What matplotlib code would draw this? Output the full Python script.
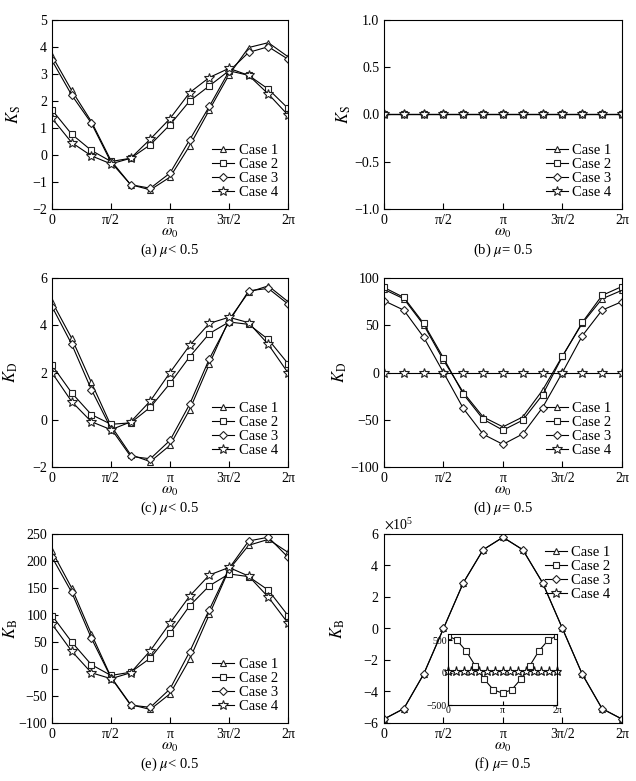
import numpy as np
import matplotlib
matplotlib.use('Agg')
import matplotlib.pyplot as plt

plt.rcParams['font.family'] = ['Liberation Serif', 'DejaVu Serif']
plt.rcParams['mathtext.fontset'] = 'stix'
plt.rcParams['font.size'] = 10

# omega_0 grid, 13 points from 0 to 2pi
w0 = np.linspace(0, 2 * np.pi, 13)
tick_pos = [0, np.pi / 2, np.pi, 3 * np.pi / 2, 2 * np.pi]
tick_lbl = ['0', 'π/2', 'π', '3π/2', '2π']
cases = ['Case 1', 'Case 2', 'Case 3', 'Case 4']

# (a) K_S, mu < 0.5
ks_a1 = [3.67, 2.39, 1.24, -0.21, -1.10, -1.29, -0.82, 0.34, 1.67, 2.97, 3.98, 4.16, 3.64]
ks_a2 = [1.67, 0.77, 0.17, -0.24, -0.12, 0.38, 1.12, 2.00, 2.56, 3.12, 2.95, 2.44, 1.73]
ks_a3 = [3.50, 2.22, 1.18, -0.27, -1.10, -1.23, -0.67, 0.56, 1.80, 3.10, 3.80, 4.01, 3.55]
ks_a4 = [1.36, 0.46, -0.03, -0.33, -0.12, 0.59, 1.35, 2.31, 2.87, 3.21, 2.95, 2.26, 1.48]

# (b) K_S, mu = 0.5
ks_b = [0.0] * 13

# (c) K_D, mu < 0.5
kd_c1 = [5.00, 3.45, 1.58, -0.25, -1.48, -1.77, -1.08, 0.43, 2.36, 4.23, 5.40, 5.67, 5.00]
kd_c2 = [2.31, 1.14, 0.22, -0.19, -0.13, 0.53, 1.54, 2.67, 3.65, 4.14, 4.04, 3.40, 2.38]
kd_c3 = [4.79, 3.20, 1.28, -0.37, -1.55, -1.65, -0.87, 0.66, 2.58, 4.16, 5.46, 5.56, 4.90]
kd_c4 = [1.99, 0.77, -0.08, -0.42, -0.09, 0.80, 2.00, 3.15, 4.08, 4.34, 4.11, 3.19, 1.99]

# (d) K_D, mu = 0.5
kd_d1 = [88, 78, 50.4, 13, -21, -47, -57.5, -47, -18.6, 17.5, 52, 78, 87]
kd_d2 = [90, 79.5, 52, 15.4, -22.8, -49.4, -61, -50.4, -23.5, 17, 53, 81.6, 91]
kd_d3 = [76, 66, 37.4, 0, -38, -65.3, -76, -65, -37, 0, 38.8, 66, 75]
kd_d4 = [0] * 13

# (e) K_B, mu < 0.5
kb_e1 = [218, 150, 65, -15, -66, -75, -46, 18, 101, 184, 229, 240, 216]
kb_e2 = [99, 50, 8, -12, -6, 20, 66, 117, 154, 176, 171, 146, 99]
kb_e3 = [207, 142, 57, -16, -67, -71, -37, 32, 110, 186, 237, 244, 207]
kb_e4 = [83, 33, -7, -18, -7, 34, 85, 135, 174, 188, 172, 133, 85]

# (f) K_B, mu = 0.5 (cases 1 and 3 coincide)
kb_f1 = [-5.75e5, -5.09e5, -2.9e5, 0, 2.9e5, 5.0e5, 5.79e5, 5.0e5, 2.9e5, 0, -2.9e5, -5.09e5, -5.75e5]
kb_f3 = [-5.75e5, -5.09e5, -2.9e5, 0, 2.9e5, 5.0e5, 5.79e5, 5.0e5, 2.9e5, 0, -2.9e5, -5.09e5, -5.75e5]
# inset: case 2 and case 4
kb_f2 = [576, 500, 337, 107, -102, -265, -316, -265, -102, 107, 337, 500, 576]
w0_star = np.linspace(0, 2 * np.pi, 15)
kb_f4 = [30] * 15

markers = ['^', 's', 'D', '*']
msizes = [5, 4.5, 4, 7]


def draw(ax, series, x=w0, legend=True, loc='lower right'):
    for i, y in enumerate(series):
        ax.plot(x, y, color='black', lw=0.8, marker=markers[i], ms=msizes[i],
                mfc='white', mec='#222222', mew=0.8, label=cases[i])
    ax.set_xlim(0, 2 * np.pi)
    ax.set_xticks(tick_pos)
    ax.set_xticklabels(tick_lbl)
    ax.tick_params(direction='in', length=4, width=0.8, top=False, right=False)
    if legend:
        ax.legend(loc=loc, frameon=False, handlelength=1.5, handletextpad=0.3,
                  labelspacing=0.05, borderaxespad=0.3, fontsize=10.5)


fig = plt.figure(figsize=(6.36, 7.81), dpi=100)
lefts = [0.0818, 0.6038]
bottoms = [0.7324, 0.402, 0.0743]
w, h = 0.371, 0.242

ax_a = fig.add_axes([lefts[0], bottoms[0], w, h])
ax_b = fig.add_axes([lefts[1], bottoms[0], 0.374, h])
ax_c = fig.add_axes([lefts[0], bottoms[1], w, h])
ax_d = fig.add_axes([lefts[1], bottoms[1], 0.374, h])
ax_e = fig.add_axes([lefts[0], bottoms[2], w, h])
ax_f = fig.add_axes([lefts[1], bottoms[2], 0.374, h])

ylab_size = 12

draw(ax_a, [ks_a1, ks_a2, ks_a3, ks_a4])
ax_a.set_ylim(-2, 5)
ax_a.set_yticks(range(-2, 6))
ax_a.set_ylabel(r'$K_\mathrm{S}$', labelpad=7, fontsize=ylab_size)

draw(ax_b, [ks_b, ks_b, ks_b, ks_b])
ax_b.set_ylim(-1, 1)
ax_b.set_yticks([-1, -0.5, 0, 0.5, 1])
ax_b.set_yticklabels(['\u22121.0', '\u22120.5', '0.0', '0.5', '1.0'])
ax_b.set_ylabel(r'$K_\mathrm{S}$', labelpad=1, fontsize=ylab_size)

draw(ax_c, [kd_c1, kd_c2, kd_c3, kd_c4])
ax_c.set_ylim(-2, 6)
ax_c.set_yticks([-2, 0, 2, 4, 6])
ax_c.set_ylabel(r'$K_\mathrm{D}$', labelpad=9, fontsize=ylab_size)

draw(ax_d, [kd_d1, kd_d2, kd_d3, kd_d4])
ax_d.set_ylim(-100, 100)
ax_d.set_yticks([-100, -50, 0, 50, 100])
ax_d.set_ylabel(r'$K_\mathrm{D}$', labelpad=1, fontsize=ylab_size)

draw(ax_e, [kb_e1, kb_e2, kb_e3, kb_e4])
ax_e.set_ylim(-100, 250)
ax_e.set_yticks(range(-100, 251, 50))
ax_e.set_ylabel(r'$K_\mathrm{B}$', labelpad=-1, fontsize=ylab_size)

# (f) main: cases 1 and 3 drawn, legend shows all four
for i, y in enumerate([kb_f1, kb_f2, kb_f3, kb_f4]):
    if i in (0, 2):
        ax_f.plot(w0, y, color='black', lw=0.8, marker=markers[i], ms=msizes[i],
                  mfc='white', mec='#222222', mew=0.8, label=cases[i])
    else:
        ax_f.plot([], [], color='black', lw=0.8, marker=markers[i], ms=msizes[i],
                  mfc='white', mec='#222222', mew=0.8, label=cases[i])
ax_f.set_xlim(0, 2 * np.pi)
ax_f.set_xticks(tick_pos)
ax_f.set_xticklabels(tick_lbl)
ax_f.tick_params(direction='in', length=4, width=0.8, top=False, right=False)
ax_f.set_ylim(-6e5, 6e5)
ax_f.set_yticks(np.arange(-6e5, 6.1e5, 2e5))
ax_f.ticklabel_format(axis='y', style='sci', scilimits=(0, 0), useMathText=True)
ax_f.legend(loc='upper right', frameon=False, handlelength=1.5, handletextpad=0.3,
            labelspacing=0.05, borderaxespad=0.4, fontsize=10.5)
ax_f.set_ylabel(r'$K_\mathrm{B}$', labelpad=11, fontsize=ylab_size)

# inset
ax_in = fig.add_axes([0.7044, 0.0973, 0.1714, 0.0909])
ax_in.plot(w0, kb_f2, color='black', lw=0.8, marker='s', ms=4, mfc='white',
           mec='#222222', mew=0.8)
ax_in.plot(w0_star, kb_f4, color='black', lw=0.8, marker='*', ms=6.5, mfc='white',
           mec='#111111', mew=0.8, clip_on=False)
ax_in.set_xlim(0, 2 * np.pi)
ax_in.set_ylim(-500, 600)
ax_in.set_xticks([0, np.pi, 2 * np.pi])
ax_in.set_xticklabels(['0', 'π', '2π'])
ax_in.set_yticks([-500, 0, 500])
ax_in.set_yticklabels(['\u2212500', '0', '500'])
ax_in.tick_params(direction='in', length=3, width=0.8, labelsize=7, pad=1)

# x labels and captions
captions = ['(a) $\\mu$< 0.5', '(b) $\\mu$= 0.5', '(c) $\\mu$< 0.5',
            '(d) $\\mu$= 0.5', '(e) $\\mu$< 0.5', '(f) $\\mu$= 0.5']
for ax, cap in zip([ax_a, ax_b, ax_c, ax_d, ax_e, ax_f], captions):
    ax.set_xlabel(r'$\omega_0$', labelpad=0, fontsize=11)
    ax.text(0.5, -0.175, cap, transform=ax.transAxes, ha='center', va='top', fontsize=10.5)
    for s in ax.spines.values():
        s.set_linewidth(0.8)

plt.savefig('out.png', dpi=100)
